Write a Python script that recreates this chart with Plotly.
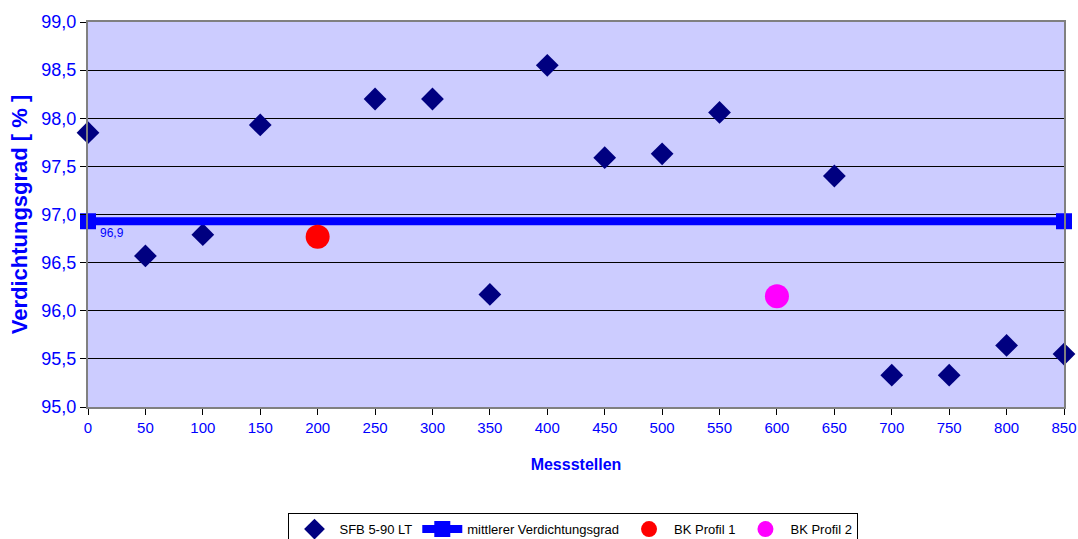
import plotly.graph_objects as go

# Measurement positions and compaction degree values
stellen = [0, 50, 100, 150, 250, 300, 350, 400, 450, 500, 550, 650, 700, 750, 800, 850]
verdichtung = [97.85, 96.57, 96.79, 97.93, 98.20, 98.20, 96.17, 98.55, 97.59, 97.63,
               98.06, 97.40, 95.33, 95.33, 95.64, 95.55]

mittel_x = [0, 850]
mittel_wert = 96.93

bk1_x = [200]
bk1_y = [96.77]
bk2_x = [600]
bk2_y = [96.15]

blue = "#0000FF"
font = "Liberation Sans, Arial, sans-serif"

fig = go.Figure()

fig.add_trace(go.Scatter(
    x=stellen, y=verdichtung, mode="markers", name="SFB 5-90 LT",
    marker=dict(symbol="diamond", size=17.5, color="#000080"),
    cliponaxis=False,
))
fig.add_trace(go.Scatter(
    x=mittel_x, y=[mittel_wert] * len(mittel_x), mode="lines+markers",
    name="mittlerer Verdichtungsgrad",
    line=dict(color=blue, width=8),
    marker=dict(symbol="square", size=16, color=blue),
    cliponaxis=False,
))
fig.add_trace(go.Scatter(
    x=bk1_x, y=bk1_y, mode="markers", name="BK Profil 1",
    marker=dict(symbol="circle", size=24, color="#FF0000"),
))
fig.add_trace(go.Scatter(
    x=bk2_x, y=bk2_y, mode="markers", name="BK Profil 2",
    marker=dict(symbol="circle", size=24, color="#FF00FF"),
))

fig.add_annotation(
    x=mittel_x[0], y=mittel_wert, text=f"{mittel_wert:.1f}".replace(".", ","),
    showarrow=False, xanchor="left", yanchor="top", xshift=10, yshift=-3,
    font=dict(family=font, size=12, color=blue),
)

fig.update_layout(
    width=1078, height=539,
    margin=dict(l=88, r=14, t=22, b=132, autoexpand=False),
    paper_bgcolor="white",
    plot_bgcolor="#CCCCFF",
    separators=",.",
    font=dict(family=font, color=blue),
    showlegend=True,
    legend=dict(
        orientation="h", x=0.532, xanchor="center", xref="container",
        y=0.048, yanchor="top", yref="container",
        bordercolor="black", borderwidth=1, bgcolor="white",
        font=dict(family=font, size=13, color="black"),
        itemwidth=40, tracegroupgap=0,
    ),
    xaxis=dict(
        range=[0, 850], tickmode="linear", tick0=0, dtick=50,
        showgrid=False, zeroline=False, automargin=False,
        showline=True, linecolor="#808080", linewidth=2, mirror=True,
        ticks="outside", ticklen=6, tickcolor="black",
        tickfont=dict(family=font, size=15, color=blue),
        title=dict(text="<b>Messstellen</b>", font=dict(family=font, size=16, color=blue), standoff=24),
    ),
    yaxis=dict(
        range=[95, 99], tickmode="linear", tick0=95, dtick=0.5, tickformat=".1f",
        showgrid=True, gridcolor="black", gridwidth=1, zeroline=False, automargin=False,
        showline=True, linecolor="#808080", linewidth=2, mirror=True,
        ticks="outside", ticklen=6, tickcolor="black",
        tickfont=dict(family=font, size=18, color=blue),
        title=dict(text="<b>Verdichtungsgrad [ % ]</b>", font=dict(family=font, size=22, color=blue), standoff=8),
    ),
)

fig.write_html("out.html")
